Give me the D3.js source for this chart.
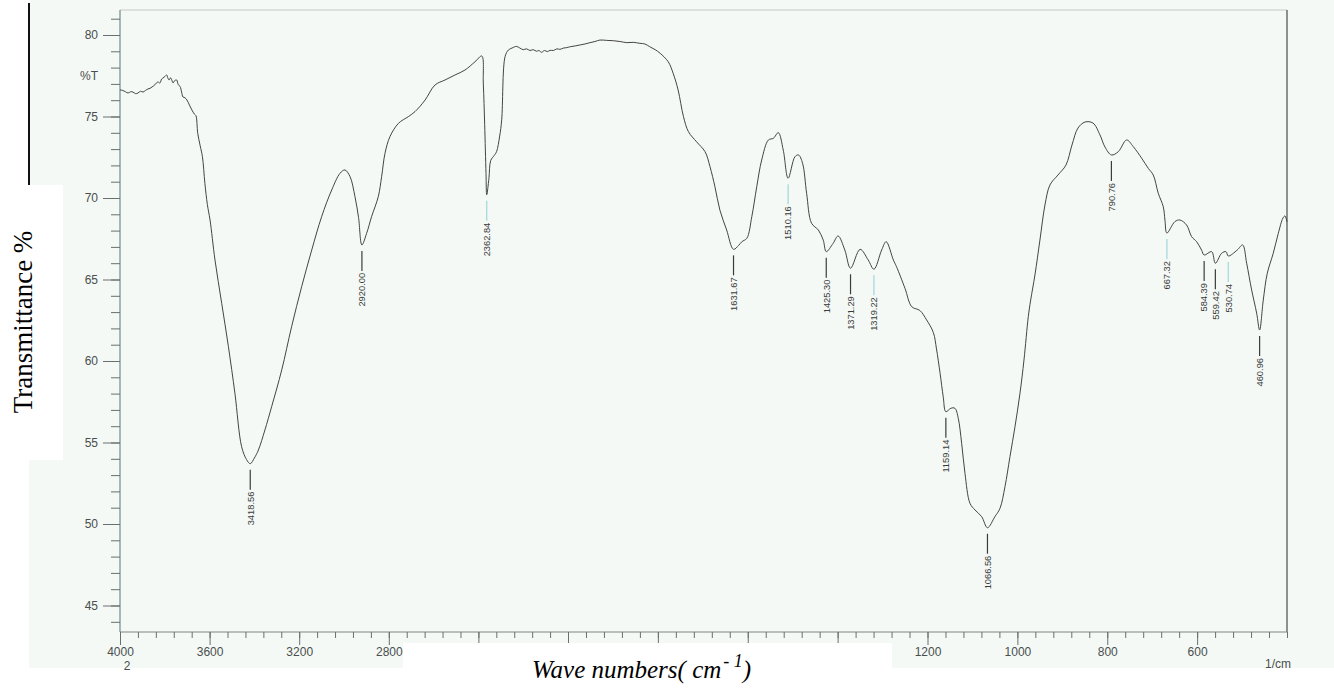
<!DOCTYPE html>
<html>
<head>
<meta charset="utf-8">
<script src="https://cdn.jsdelivr.net/npm/d3@7"></script>
<style>
  html, body { margin: 0; padding: 0; background: #ffffff; }
  svg { display: block; }
</style>
</head>
<body>
<svg id="chart" width="1334" height="691"></svg>
<script>
// FTIR spectrum: wavenumber (1/cm) and transmittance (%T)
const wavenumbers = [
  4000, 3988, 3976, 3964, 3952, 3942, 3930, 3920, 3908, 3897, 3886, 3875, 3866, 3857,
  3844, 3838, 3830, 3822, 3814, 3808, 3800, 3792, 3786, 3781, 3774, 3769, 3763, 3756,
  3747, 3740, 3732, 3725, 3719, 3710, 3701, 3690, 3679, 3668, 3661, 3653, 3642, 3632,
  3621, 3610, 3598, 3576, 3546, 3516, 3487, 3457, 3435, 3418.56, 3400, 3382, 3353, 3323,
  3278, 3234, 3189, 3144, 3100, 3055, 3018, 2996, 2973, 2951, 2935, 2920, 2899, 2877,
  2847, 2832, 2817, 2795, 2757, 2713, 2683, 2638, 2594, 2549, 2504, 2460, 2415, 2385,
  2378, 2372, 2366, 2362.84, 2353, 2345, 2330, 2319, 2305, 2296, 2281, 2266, 2250, 2237,
  2229, 2215, 2200, 2185, 2170, 2155, 2140, 2130, 2118, 2105, 2092, 2080, 2065, 2050,
  2036, 2020, 2008, 1995, 1984, 1973, 1962, 1951, 1940, 1929, 1914, 1899, 1884, 1869,
  1855, 1840, 1829, 1818, 1806, 1795, 1777, 1766, 1755, 1743, 1732, 1714, 1695, 1684,
  1673, 1662, 1647, 1631.67, 1620, 1613, 1602, 1591, 1580, 1569, 1554, 1543, 1532, 1521,
  1510.16, 1495, 1487, 1478, 1469, 1458, 1443, 1432, 1425.3, 1410, 1399, 1384, 1371.29, 1350,
  1332, 1319.22, 1302, 1292, 1276, 1269, 1250, 1235, 1217, 1202, 1187, 1180, 1172, 1165,
  1159.14, 1148, 1139, 1131.5, 1124, 1116.6, 1105.5, 1094.3, 1079.4, 1066.56, 1050, 1038.7, 1027.6, 1016.5,
  1005.3, 994.2, 985.3, 975.7, 970.4, 960.9, 949.8, 938.6, 927.5, 909.7, 891.9, 878.5, 865.2, 849.6,
  831.8, 816.2, 805.1, 790.76, 775.5, 756.8, 742.1, 723.4, 708.7, 697.6, 686.5, 675.4, 671.6, 667.32,
  649.5, 638.3, 623.4, 612.3, 601.1, 590, 584.39, 567.6, 559.42, 545.4, 535.8, 530.74, 510.7, 498.7,
  489.8, 478.7, 467.5, 460.96, 452.8, 443.9, 430.6, 419.4, 409, 404.5, 400
];
const transmittance = [
  76.63, 76.6, 76.52, 76.44, 76.52, 76.5, 76.4, 76.44, 76.55, 76.5, 76.6, 76.69, 76.73, 76.81,
  76.95, 77.05, 77.12, 77.05, 77.3, 77.36, 77.45, 77.55, 77.35, 77.24, 77.38, 77.24, 77.06, 77.2,
  77.24, 76.95, 76.85, 76.5, 76.2, 76.15, 76.01, 75.7, 75.4, 75.15, 75.05, 73.97, 73.2, 72.53,
  70.9, 69.6, 68.65, 66.2, 63.54, 60.88, 58.02, 54.74, 53.95, 53.7, 54.05, 54.54, 55.77, 57.2,
  59.45, 62.1, 64.56, 66.81, 68.85, 70.49, 71.51, 71.72, 71.31, 70.08, 68.8, 67.12, 67.83, 68.85,
  70.08, 71.31, 72.74, 73.76, 74.58, 74.99, 75.3, 76.01, 76.93, 77.24, 77.55, 77.85, 78.36, 78.71,
  77.0, 74.5, 71.5, 70.2, 71.2, 72.3, 72.6, 72.84, 73.8, 74.79, 78.67, 79.08, 79.2, 79.28,
  79.3, 79.2, 79.1, 79.15, 79.05, 79.1, 79.0, 79.05, 78.94, 79.05, 78.98, 79.06, 79.05, 79.15,
  79.12, 79.2, 79.22, 79.28, 79.33, 79.39, 79.45, 79.53, 79.6, 79.69, 79.67, 79.65, 79.6, 79.53,
  79.55, 79.49, 79.45, 79.28, 79.1, 78.88, 78.36, 77.65, 76.63, 74.99, 74.07, 73.45, 72.84, 71.92,
  70.69, 69.26, 68.04, 66.85, 67.1, 67.32, 67.53, 68.85, 70.69, 72.33, 73.56, 73.66, 74.01, 72.94,
  71.21, 72.53, 72.64, 72.13, 70.29, 68.45, 68.04, 67.42, 66.71, 67.22, 67.67, 66.81, 65.69, 66.85,
  66.2, 65.63, 66.81, 67.32, 66.2, 65.79, 64.45, 63.33, 63.1, 62.52, 61.75, 60.74, 59.25, 57.81,
  56.89, 57.1, 57.1, 56.48, 54.95, 53.11, 51.27, 50.86, 50.45, 49.77, 50.45, 50.96, 52.29, 54.13,
  55.97, 58.02, 60.06, 62.72, 63.74, 65.28, 67.42, 69.57, 70.8, 71.41, 72.02, 73.25, 74.29, 74.66,
  74.6, 73.87, 73.13, 72.64, 72.84, 73.56, 73.15, 72.44, 71.82, 71.41, 70.29, 69.47, 68.65, 67.85,
  68.55, 68.65, 68.34, 67.63, 67.32, 66.8, 66.5, 66.71, 66.0, 66.61, 66.71, 66.44, 66.81, 67.12,
  66.0, 64.36, 62.93, 61.9, 63.74, 65.38, 66.61, 67.83, 68.77, 68.9, 68.53
];

// Labelled absorption bands (1/cm)
const peakWavenumbers = [
  3418.56, 2920.00, 2362.84, 1631.67, 1510.16, 1425.30, 1371.29, 1319.22,
  1159.14, 1066.56, 790.76, 667.32, 584.39, 559.42, 530.74, 460.96
];

// Axis ticks
const yMajorTicks = [45, 50, 55, 60, 65, 70, 75, 80];
const yMinorTicks = d3.range(44, 82, 1);
const xMajorTicks = [4000, 3600, 3200, 2800, 2400, 2000, 1800, 1600, 1400, 1200, 1000, 800, 600];
const xMinorTicks = d3.range(4000, 2000, -80).concat(d3.range(2000, 399, -40));
const xTickLabels = [4000, 3600, 3200, 2800, 1200, 1000, 800, 600];

// ---- drawing ----
const svg = d3.select("#chart");
const plotLeft = 120, plotRight = 1287, plotTop = 10, plotBottom = 632;

// Two-part wavenumber axis: 4000-2000 at half the scale of 2000-400
const x = d3.scaleLinear().domain([4000, 2000, 400]).range([plotLeft, 568, plotRight]);
const y = d3.scaleLinear().domain([45, 80]).range([605.5, 35]);

const sansFont = "'Liberation Sans', Arial, sans-serif";
const serifFont = "'Liberation Serif', 'Times New Roman', serif";
const tickColor = "#6a6f6f";
const labelColor = "#4a4e4e";

// Scanned sheet
svg.append("rect").attr("x", 0).attr("y", 0).attr("width", 1334).attr("height", 691).attr("fill", "#ffffff");
svg.append("rect").attr("x", 29).attr("y", 0).attr("width", 1305).attr("height", 668).attr("fill", "#f4f9f5");
svg.append("line").attr("x1", 29).attr("x2", 29).attr("y1", 3).attr("y2", 186)
  .attr("stroke", "#111").attr("stroke-width", 2);

// Frame
svg.append("line").attr("x1", plotLeft).attr("x2", plotRight).attr("y1", plotTop).attr("y2", plotTop)
  .attr("stroke", "#c4caca").attr("stroke-width", 1.2);
svg.append("line").attr("x1", plotRight).attr("x2", plotRight).attr("y1", plotTop).attr("y2", plotBottom)
  .attr("stroke", "#4a4a4a").attr("stroke-width", 1.2);
svg.append("line").attr("x1", plotLeft).attr("x2", plotRight).attr("y1", plotBottom).attr("y2", plotBottom)
  .attr("stroke", "#7d8585").attr("stroke-width", 1.2);
svg.append("line").attr("x1", plotLeft).attr("x2", plotLeft).attr("y1", plotTop).attr("y2", plotBottom)
  .attr("stroke", "#6d8c8c").attr("stroke-width", 1.2);

function styleAxis(g) {
  g.select(".domain").remove();
  g.selectAll(".tick line").attr("stroke", tickColor).attr("stroke-width", 1);
  g.selectAll(".tick text").attr("fill", labelColor).style("font-family", sansFont).style("font-size", "12px");
}

// Y axis (minor then major ticks)
svg.append("g").attr("transform", `translate(${plotLeft},0)`)
  .call(d3.axisLeft(y).tickValues(yMinorTicks).tickSize(9).tickFormat(""))
  .call(styleAxis);
svg.append("g").attr("transform", `translate(${plotLeft},0)`)
  .call(d3.axisLeft(y).tickValues(yMajorTicks).tickSize(17).tickPadding(5).tickFormat(d3.format("d")))
  .call(styleAxis);

// X axis
svg.append("g").attr("transform", `translate(0,${plotBottom})`)
  .call(d3.axisBottom(x).tickValues(xMinorTicks).tickSize(6).tickFormat(""))
  .call(styleAxis);
svg.append("g").attr("transform", `translate(0,${plotBottom})`)
  .call(d3.axisBottom(x).tickValues(xMajorTicks).tickSize(13).tickPadding(2)
    .tickFormat(d => xTickLabels.includes(d) ? String(d) : ""))
  .call(styleAxis);

// Instrument annotations
svg.append("text").attr("x", 98).attr("y", 80).attr("text-anchor", "end")
  .attr("fill", labelColor).style("font-family", sansFont).style("font-size", "12px").text("%T");
svg.append("text").attr("x", x(4000) + 7).attr("y", 670).attr("text-anchor", "middle")
  .attr("fill", labelColor).style("font-family", sansFont).style("font-size", "12px").text("2");
svg.append("text").attr("x", 1278).attr("y", 668).attr("text-anchor", "middle")
  .attr("fill", labelColor).style("font-family", sansFont).style("font-size", "12px").text("1/cm");

// Spectrum trace
const spectrum = wavenumbers.map((w, i) => ({ w, t: transmittance[i] }));
const line = d3.line().x(d => x(d.w)).y(d => y(d.t)).curve(d3.curveCatmullRom.alpha(0.5));
svg.append("path").datum(spectrum).attr("d", line)
  .attr("fill", "none").attr("stroke", "#444").attr("stroke-width", 1);

// Transmittance at a wavenumber
function tAt(w) {
  for (let i = 0; i < spectrum.length - 1; i++) {
    const a = spectrum[i], b = spectrum[i + 1];
    if (a.w >= w && w >= b.w) {
      const f = a.w === b.w ? 0 : (a.w - w) / (a.w - b.w);
      return a.t + f * (b.t - a.t);
    }
  }
  return spectrum[spectrum.length - 1].t;
}

// Peak markers: some of the pick lines are printed in light cyan
const tintedMarkers = new Set([2362.84, 1510.16, 1319.22, 667.32, 530.74]);
const peakGroup = svg.append("g");
peakWavenumbers.forEach(p => {
  const px = x(p);
  const py = y(tAt(p));
  const y0 = py + 6, y1 = py + 26;
  peakGroup.append("line").attr("x1", px).attr("x2", px).attr("y1", y0).attr("y2", y1)
    .attr("stroke", tintedMarkers.has(p) ? "#9fd6dc" : "#3c3c3c").attr("stroke-width", 1.2);
  peakGroup.append("text")
    .attr("transform", `translate(${px},${y1 + 2}) rotate(-90)`)
    .attr("text-anchor", "end").attr("dy", "0.35em")
    .attr("fill", "#3a3a3a").style("font-family", sansFont).style("font-size", "9.3px")
    .text(d3.format(".2f")(p));
});

// Pasted axis titles
svg.append("rect").attr("x", 0).attr("y", 185).attr("width", 63).attr("height", 275).attr("fill", "#ffffff");
svg.append("rect").attr("x", 403).attr("y", 643).attr("width", 489).attr("height", 48).attr("fill", "#ffffff");

svg.append("text").attr("transform", "translate(32,322) rotate(-90)").attr("text-anchor", "middle")
  .attr("fill", "#000").style("font-family", serifFont).style("font-size", "27px").text("Transmittance %");

const xt = svg.append("text").attr("x", 532).attr("y", 678)
  .attr("fill", "#000").style("font-family", serifFont).style("font-size", "25px").style("font-style", "italic");
xt.append("tspan").text("Wave numbers( cm");
xt.append("tspan").attr("dx", 2).attr("dy", -11).style("font-size", "18px").text("-  1");
xt.append("tspan").attr("dy", 11).text(")");
</script>
</body>
</html>
